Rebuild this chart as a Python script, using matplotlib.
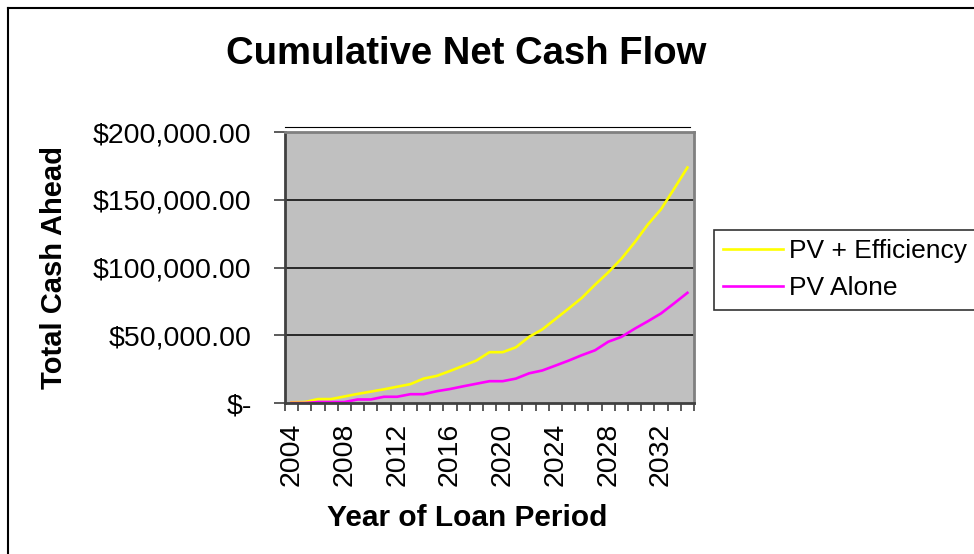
import matplotlib.pyplot as plt
import numpy as np
from matplotlib.lines import Line2D

plt.rcParams['font.family'] = ['Liberation Sans', 'DejaVu Sans']

# data
years = list(range(2004, 2035))
pv_efficiency = [500, 700, 2900, 2900, 4800, 6700, 8400, 10100, 12000, 13900,
                 18000, 20000, 23600, 27400, 31300, 37500, 37500, 41100, 48800, 54300,
                 62000, 69700, 77600, 87300, 96400, 106500, 118500, 131700, 143000, 158200,
                 173800]
pv_alone = [0, 0, 700, 700, 700, 2600, 2600, 4600, 4600, 6500,
            6500, 8700, 10300, 12300, 14200, 16100, 16100, 18000, 21900, 24000,
            27600, 31300, 35300, 38900, 45200, 48800, 54800, 60300, 66100, 73600,
            81300]
y_ticks = [0, 50000, 100000, 150000, 200000]

fig = plt.figure(figsize=(9.74, 5.54), dpi=100)
ax = fig.add_axes([285/974, 1-403/554, 409/974, 271/554])

x = np.arange(len(years))
ax.set_facecolor('#C0C0C0')
ax.plot(x, pv_efficiency, color='#FFFF00', lw=1.9, label='PV + Efficiency')
ax.plot(x, pv_alone, color='#FF00FF', lw=1.9, label='PV Alone')

ax.set_xlim(-0.5, len(years) - 0.5)
ax.set_ylim(0, 200000)

# y axis
ax.set_yticks(y_ticks)
ax.set_yticklabels(['$-' if v == 0 else f'${v:,.2f}' for v in y_ticks], fontsize=20.5)
for v in y_ticks[1:-1]:
    ax.axhline(v, color='black', lw=1.1, zorder=1)
ax.tick_params(axis='y', direction='out', length=8, width=1.2, color='#404040', pad=16)

# x axis: labels on every 4th year, tick marks between categories
ax.set_xticks(x[::4])
ax.set_xticklabels([str(y) for y in years[::4]], rotation=90, fontsize=20.5)
ax.set_xticks(np.arange(-0.5, len(years)), minor=True)
ax.tick_params(axis='x', which='major', length=0, pad=14)
ax.tick_params(axis='x', which='minor', direction='out', length=6, width=1.2, color='#404040')

for s in ax.spines.values():
    s.set_color('#808080')
    s.set_linewidth(2)
ax.spines['left'].set_color('#404040')
ax.spines['bottom'].set_color('#404040')

ax.plot([0, 0.99], [1.018, 1.018], transform=ax.transAxes, color='black', lw=0.8, clip_on=False)

ax.set_ylabel('Total Cash Ahead', fontsize=21, fontweight='bold')
ax.yaxis.set_label_coords(-0.53, 0.5)
fig.text(0.479, 0.9025, 'Cumulative Net Cash Flow', ha='center', va='center',
         fontsize=27.5, fontweight='bold')
fig.text(0.48, 0.065, 'Year of Loan Period', ha='center', va='center',
         fontsize=21.5, fontweight='bold')

leg = fig.legend(loc='upper left', bbox_to_anchor=(714/974, 1-230/554), fontsize=19,
                 frameon=True, fancybox=False, edgecolor='black', handlelength=2.25,
                 borderpad=0.35, labelspacing=0.5, handletextpad=0.25, borderaxespad=0)
leg.get_frame().set_linewidth(1.2)

# outer chart border (cut at right and bottom)
fig.add_artist(Line2D([8/974, 1], [1-8/554, 1-8/554], color='black', lw=1.5))
fig.add_artist(Line2D([8/974, 8/974], [0, 1-8/554], color='black', lw=1.5))

plt.savefig('out.png', dpi=100)
